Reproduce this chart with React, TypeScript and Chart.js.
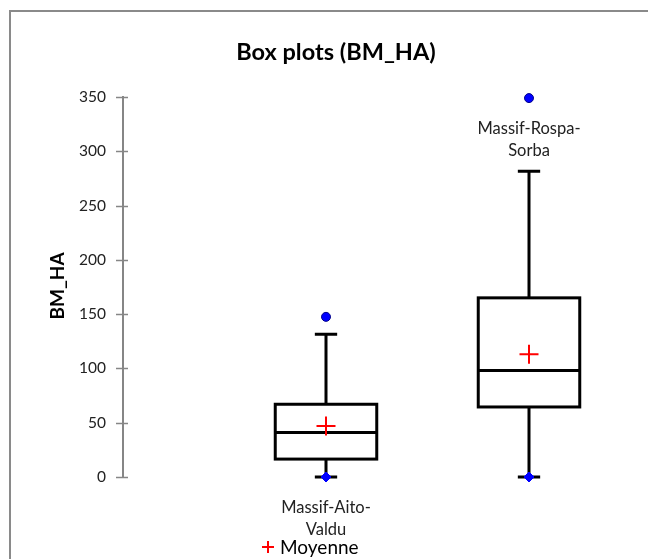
import React, { useEffect, useRef } from "react";
import { Chart, registerables } from "chart.js";

Chart.register(...registerables);

// ---- data ----
const categories = ["Massif-Aito-Valdu", "Massif-Rospa-Sorba"];
const categoryLabelLines = [["Massif-Aito-", "Valdu"], ["Massif-Rospa-", "Sorba"]];
const positions = [1, 2];
const minimum = [0, 0];
const q1 = [16.5, 64.5];
const median = [41, 98];
const q3 = [67, 165];
const upperWhisker = [131.5, 281.5];
const mean = [47, 113];
const outliers = [147.5, 349];
// value at which each category label hangs (below that point)
const labelAnchors = [minimum[0], outliers[1]];
const yTicks = [0, 50, 100, 150, 200, 250, 300, 350];

const titleText = "Box plots (BM_HA)";
const yTitle = "BM_HA";
const legendText = "Moyenne";

const FONT = "Lato, 'Open Sans', sans-serif";

const boxPlugin = {
  id: "boxPlugin",
  beforeDatasetsDraw(chart: any) {
    const { ctx } = chart;
    const xs = chart.scales.x;
    const ys = chart.scales.y;
    ctx.save();
    ctx.strokeStyle = "#000";
    ctx.lineWidth = 3;
    categories.forEach((_, i) => {
      const x = xs.getPixelForValue(positions[i]);
      const half = (xs.getPixelForValue(positions[i] + 0.25) - xs.getPixelForValue(positions[i] - 0.25)) / 2;
      const cap = xs.getPixelForValue(positions[i] + 0.055) - x;
      const yMin = ys.getPixelForValue(minimum[i]);
      const yQ1 = ys.getPixelForValue(q1[i]);
      const yMed = ys.getPixelForValue(median[i]);
      const yQ3 = ys.getPixelForValue(q3[i]);
      const yHi = ys.getPixelForValue(upperWhisker[i]);
      ctx.beginPath();
      ctx.moveTo(x, yQ3);
      ctx.lineTo(x, yHi);
      ctx.moveTo(x - cap, yHi);
      ctx.lineTo(x + cap, yHi);
      ctx.moveTo(x, yQ1);
      ctx.lineTo(x, yMin);
      ctx.moveTo(x - cap, yMin);
      ctx.lineTo(x + cap, yMin);
      ctx.stroke();
      ctx.fillStyle = "#fff";
      ctx.fillRect(x - half, yQ3, half * 2, yQ1 - yQ3);
      ctx.strokeRect(x - half, yQ3, half * 2, yQ1 - yQ3);
      ctx.beginPath();
      ctx.moveTo(x - half, yMed);
      ctx.lineTo(x + half, yMed);
      ctx.stroke();
    });
    ctx.restore();
  },
  afterDraw(chart: any) {
    const { ctx, width, height, chartArea } = chart;
    const xs = chart.scales.x;
    const ys = chart.scales.y;
    ctx.save();
    // frame
    ctx.fillStyle = "#8a8a8a";
    ctx.fillRect(1, 2, 2, height);
    ctx.fillRect(1, 2, width, 2);
    // y tick marks (crossing the axis)
    ctx.strokeStyle = "#868686";
    ctx.lineWidth = 1.5;
    yTicks.forEach((t) => {
      const y = Math.round(ys.getPixelForValue(t)) + 0.5;
      ctx.beginPath();
      ctx.moveTo(chartArea.left - 7, y);
      ctx.lineTo(chartArea.left + 5, y);
      ctx.stroke();
    });
    // title
    ctx.fillStyle = "#000";
    ctx.textAlign = "center";
    ctx.textBaseline = "middle";
    ctx.font = `bold 23.5px ${FONT}`;
    ctx.fillText(titleText, 328, 44);
    // y title
    ctx.save();
    ctx.translate(50, 278);
    ctx.rotate(-Math.PI / 2);
    ctx.font = `bold 19px ${FONT}`;
    ctx.fillText(yTitle, 0, 0);
    ctx.restore();
    // category labels
    ctx.font = `16.5px ${FONT}`;
    ctx.fillStyle = "#222";
    categories.forEach((_, i) => {
      const x = xs.getPixelForValue(positions[i]);
      const y = ys.getPixelForValue(labelAnchors[i]);
      categoryLabelLines[i].forEach((line, k) => {
        ctx.fillText(line, x, y + 31 + k * 22);
      });
    });
    // legend
    ctx.strokeStyle = "#ff0000";
    ctx.lineWidth = 2;
    ctx.beginPath();
    ctx.moveTo(254, 539);
    ctx.lineTo(266, 539);
    ctx.moveTo(260, 533);
    ctx.lineTo(260, 545);
    ctx.stroke();
    ctx.textAlign = "left";
    ctx.fillStyle = "#000";
    ctx.font = `19px ${FONT}`;
    ctx.fillText(legendText, 272, 540);
    ctx.restore();
  },
};

export default function App() {
  const ref = useRef<HTMLCanvasElement | null>(null);
  useEffect(() => {
    if (!ref.current) return;
    const chart = new Chart(ref.current, {
      type: "scatter",
      data: {
        datasets: [
          {
            label: "Min",
            data: positions.map((x, i) => ({ x, y: minimum[i] })),
            pointStyle: "rectRot",
            pointRadius: 5,
            backgroundColor: "#0000ff",
            borderColor: "#0000ff",
            borderWidth: 1,
            clip: false,
          },
          {
            label: "Outliers",
            data: positions.map((x, i) => ({ x, y: outliers[i] })),
            pointStyle: "circle",
            pointRadius: 4.5,
            backgroundColor: "#0000ff",
            borderColor: "#00008b",
            borderWidth: 1,
            clip: false,
          },
          {
            label: legendText,
            data: positions.map((x, i) => ({ x, y: mean[i] })),
            pointStyle: "cross",
            pointRadius: 9.5,
            borderColor: "#ff0000",
            backgroundColor: "#ff0000",
            borderWidth: 2,
            clip: false,
          },
        ],
      },
      plugins: [boxPlugin],
      options: {
        animation: false,
        responsive: false,
        layout: { padding: { top: 89, bottom: 82, left: 0, right: 17.5 } },
        plugins: {
          legend: { display: false },
          title: { display: false },
          tooltip: { enabled: false },
        },
        scales: {
          x: { type: "linear", min: 0, max: 2.5, display: false },
          y: {
            type: "linear",
            min: 0,
            max: 350,
            afterFit: (s: any) => {
              s.width = 115;
            },
            afterBuildTicks: (s: any) => {
              s.ticks = yTicks.map((v) => ({ value: v }));
            },
            border: { display: true, color: "#868686", width: 2 },
            grid: { display: true, drawOnChartArea: false, drawTicks: false },
            ticks: {
              padding: 17,
              color: "#222",
              font: { family: FONT, size: 15.5 },
            },
          },
        },
      },
    } as any);
    return () => chart.destroy();
  }, []);
  return <canvas ref={ref} width={640} height={551} style={{ display: "block" }} />;
}
